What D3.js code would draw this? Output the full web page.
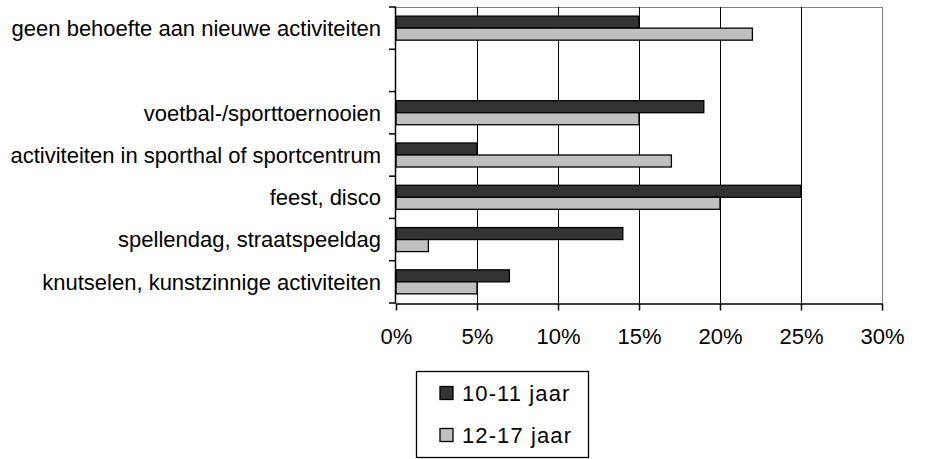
<!DOCTYPE html>
<html>
<head>
<meta charset="utf-8">
<script src="https://cdn.jsdelivr.net/npm/d3@7"></script>
<style>
html,body{margin:0;padding:0;background:#fff;}
svg{display:block;font-family:"Liberation Sans",Arial,sans-serif;}
</style>
</head>
<body>
<svg id="chart" width="933" height="459"></svg>
<script>
const categories = [
  "geen behoefte aan nieuwe activiteiten",
  "",
  "voetbal-/sporttoernooien",
  "activiteiten in sporthal of sportcentrum",
  "feest, disco",
  "spellendag, straatspeeldag",
  "knutselen, kunstzinnige activiteiten"
];
const seriesNames = ["10-11 jaar", "12-17 jaar"];
const values1011 = [15, null, 19, 5, 25, 14, 7];
const values1217 = [22, null, 15, 17, 20, 2, 5];
const xTicks = [0, 5, 10, 15, 20, 25, 30];
const colors = ["#333333", "#c0c0c0"];

const svg = d3.select("#chart");
const pL = 396, pR = 882, pT = 7, pB = 303;
const fs = 22;

const x = d3.scaleLinear().domain([0, 30]).range([pL, pR]);
const keys = categories.map((c, i) => i);
const y = d3.scaleBand().domain(keys).range([pT, pB]).padding(0);
const ys = d3.scaleBand().domain([0, 1]).range([0, y.bandwidth()]).paddingInner(0).paddingOuter(0.76);

// plot border (grey)
svg.append("line").attr("x1", pL).attr("x2", pR).attr("y1", pT + 0.5).attr("y2", pT + 0.5)
  .attr("stroke", "#808080").attr("stroke-width", 1);
svg.append("line").attr("x1", pR + 0.5).attr("x2", pR + 0.5).attr("y1", pT).attr("y2", pB)
  .attr("stroke", "#808080").attr("stroke-width", 1);

// gridlines
svg.append("g").selectAll("line").data(xTicks.filter(t => t > 0 && t < 30)).join("line")
  .attr("x1", d => Math.round(x(d)) + 0.5).attr("x2", d => Math.round(x(d)) + 0.5)
  .attr("y1", pT).attr("y2", pB)
  .attr("stroke", "#000").attr("stroke-width", 1);

// bars
const series = [values1011, values1217];
series.forEach((vals, si) => {
  svg.append("g").selectAll("rect").data(keys.filter(i => vals[i] != null)).join("rect")
    .attr("x", x(0))
    .attr("y", i => y(i) + ys(si))
    .attr("width", i => x(vals[i]) - x(0))
    .attr("height", ys.bandwidth())
    .attr("fill", colors[si])
    .attr("stroke", "#000")
    .attr("stroke-width", 1.3);
});

// x axis
const xAxis = d3.axisBottom(x).tickValues(xTicks).tickFormat(d => d + "%").tickSize(7).tickSizeOuter(0);
const gx = svg.append("g").attr("transform", `translate(0,${pB + 0.5})`).call(xAxis);
gx.select(".domain").attr("stroke", "#000").attr("stroke-width", 1.5);
gx.selectAll(".tick line").attr("stroke", "#000").attr("stroke-width", 1.5);
gx.selectAll(".tick text").attr("font-size", fs).attr("font-family", "Liberation Sans, Arial, sans-serif")
  .attr("fill", "#000").attr("dy", null).attr("y", 40);

// y axis
const tickPos = d3.range(categories.length + 1).map(i => pT + i * y.step());
svg.append("line").attr("x1", pL - 0.5).attr("x2", pL - 0.5).attr("y1", pT).attr("y2", pB)
  .attr("stroke", "#000").attr("stroke-width", 1.5);
svg.append("g").selectAll("line").data(tickPos).join("line")
  .attr("x1", pL - 7).attr("x2", pL).attr("y1", d => d).attr("y2", d => d)
  .attr("stroke", "#000").attr("stroke-width", 1.5);
svg.append("g").selectAll("text").data(keys).join("text")
  .attr("x", 381)
  .attr("y", i => y(i) + y.bandwidth() / 2)
  .attr("dy", "0.36em")
  .attr("text-anchor", "end")
  .attr("font-size", fs)
  .attr("fill", "#000")
  .text(i => categories[i]);

// legend
const lg = svg.append("g");
lg.append("rect").attr("x", 416.5).attr("y", 371.5).attr("width", 172).attr("height", 86)
  .attr("fill", "#fff").attr("stroke", "#000").attr("stroke-width", 1.3);
seriesNames.forEach((name, i) => {
  const cy = 393 + i * 42;
  lg.append("rect").attr("x", 440).attr("y", cy - 6.5).attr("width", 13).attr("height", 13)
    .attr("fill", colors[i]).attr("stroke", "#000").attr("stroke-width", 1.3);
  lg.append("text").attr("x", 462).attr("y", cy).attr("dy", "0.36em")
    .attr("font-size", fs).attr("letter-spacing", 1.1).attr("fill", "#000").text(name);
});
</script>
</body>
</html>
